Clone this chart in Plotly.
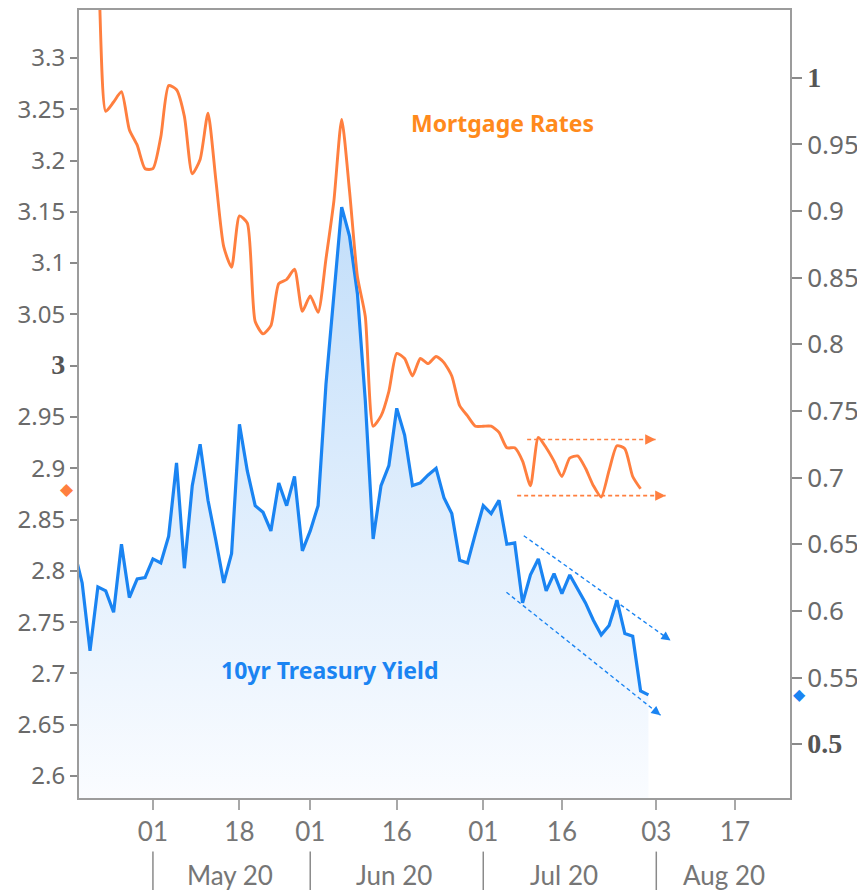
import plotly.graph_objects as go

# ---------------- data ----------------
trade_dates = [
    "2020-04-17", "2020-04-20", "2020-04-21", "2020-04-22", "2020-04-23", "2020-04-24",
    "2020-04-27", "2020-04-28", "2020-04-29", "2020-04-30",
    "2020-05-01", "2020-05-04", "2020-05-05", "2020-05-06", "2020-05-07", "2020-05-08",
    "2020-05-11", "2020-05-12", "2020-05-13", "2020-05-14", "2020-05-15",
    "2020-05-18", "2020-05-19", "2020-05-20", "2020-05-21", "2020-05-22",
    "2020-05-26", "2020-05-27", "2020-05-28", "2020-05-29",
    "2020-06-01", "2020-06-02", "2020-06-03", "2020-06-04", "2020-06-05",
    "2020-06-08", "2020-06-09", "2020-06-10", "2020-06-11", "2020-06-12",
    "2020-06-15", "2020-06-16", "2020-06-17", "2020-06-18", "2020-06-19",
    "2020-06-22", "2020-06-23", "2020-06-24", "2020-06-25", "2020-06-26",
    "2020-06-29", "2020-06-30",
    "2020-07-01", "2020-07-02", "2020-07-06", "2020-07-07", "2020-07-08", "2020-07-09",
    "2020-07-10", "2020-07-13", "2020-07-14", "2020-07-15", "2020-07-16", "2020-07-17",
    "2020-07-20", "2020-07-21", "2020-07-22", "2020-07-23", "2020-07-24",
    "2020-07-27", "2020-07-28", "2020-07-29", "2020-07-30", "2020-07-31",
]

treasury_yield = [
    0.645, 0.621, 0.570, 0.618, 0.615, 0.599, 0.650, 0.610, 0.624, 0.625,
    0.639, 0.636, 0.656, 0.711, 0.632, 0.694, 0.725, 0.683, 0.653, 0.621, 0.643,
    0.740, 0.705, 0.679, 0.674, 0.660, 0.696, 0.679, 0.701, 0.645,
    0.660, 0.679, 0.770, 0.838, 0.903, 0.881, 0.838, 0.758, 0.654, 0.694,
    0.709, 0.752, 0.732, 0.694, 0.696, 0.702, 0.707, 0.685, 0.673, 0.638,
    0.636, 0.658,
    0.679, 0.673, 0.683, 0.650, 0.651, 0.606, 0.627, 0.639, 0.615, 0.628,
    0.613, 0.627, 0.617, 0.606, 0.593, 0.582, 0.589, 0.608, 0.583, 0.581,
    0.540, 0.537,
]

mortgage_dates = trade_dates[1:-1]
mortgage_rate = [
    3.460, 3.440, 3.393, 3.248, 3.257, 3.267, 3.230, 3.215, 3.192,
    3.192, 3.223, 3.273, 3.269, 3.243, 3.187, 3.201, 3.246, 3.181, 3.116, 3.096,
    3.146, 3.139, 3.043, 3.031, 3.039, 3.080, 3.084, 3.094, 3.053,
    3.068, 3.052, 3.104, 3.160, 3.240, 3.170, 3.087, 3.048, 2.941, 2.951,
    2.975, 3.012, 3.007, 2.990, 3.007, 3.002, 3.009, 3.003, 2.990, 2.961,
    2.951, 2.941,
    2.941, 2.941, 2.935, 2.920, 2.920, 2.907, 2.883, 2.930, 2.920, 2.907,
    2.892, 2.910, 2.912, 2.900, 2.883, 2.872, 2.898, 2.922, 2.919, 2.892, 2.880,
]

left_tickvals = [2.6, 2.65, 2.7, 2.75, 2.8, 2.85, 2.9, 2.95, 3.0, 3.05, 3.1, 3.15, 3.2, 3.25, 3.3]
left_ticklabels = ["2.6", "2.65", "2.7", "2.75", "2.8", "2.85", "2.9", "2.95", "3",
                   "3.05", "3.1", "3.15", "3.2", "3.25", "3.3"]
right_tickvals = [0.5, 0.55, 0.6, 0.65, 0.7, 0.75, 0.8, 0.85, 0.9, 0.95, 1.0]
right_ticklabels = ["0.5", "0.55", "0.6", "0.65", "0.7", "0.75", "0.8", "0.85", "0.9", "0.95", "1"]
bold_labels = {"3", "0.5", "1"}

x_tickvals = ["2020-05-01", "2020-05-18", "2020-06-01", "2020-06-16",
              "2020-07-01", "2020-07-16", "2020-08-03", "2020-08-17"]
x_ticklabels = ["01", "18", "01", "16", "01", "16", "03", "17"]
month_names = ["May 20", "Jun 20", "Jul 20", "Aug 20"]
month_starts = ["2020-05-01", "2020-06-01", "2020-07-01", "2020-08-03"]
month_label_x = ["2020-05-14 19:00", "2020-06-15 17:00", "2020-07-16 05:00", "2020-08-13 14:00"]

# trend-channel annotations (start, end)
orange_channel = [(("2020-07-09 13:55", 2.928), ("2020-07-31 21:50", 2.928)),
                  (("2020-07-08 07:26", 2.8733), ("2020-08-04 04:19", 2.8733))]
blue_channel = [(("2020-07-09 03:36", 0.6564), ("2020-08-04 19:26", 0.5778)),
                (("2020-07-06 22:48", 0.6140), ("2020-08-03 12:58", 0.5217))]

# ---------------- styling ----------------
ORANGE = "#ff7f3f"
ORANGE_TXT = "#ff8a1c"
BLUE = "#1a84f2"
AXIS = "#9c9c9c"
TICKTXT = "#6a6a6a"
TICKFONT = "Noto Sans"


def fmt(lbl):
    if lbl in bold_labels:
        return ('<span style="font-family:Liberation Serif;font-weight:bold;'
                'font-size:28px;fill:#555555">' + lbl + "</span>")
    return lbl


fig = go.Figure()

fig.add_trace(go.Scatter(
    x=trade_dates, y=treasury_yield, yaxis="y", mode="lines",
    line=dict(color=BLUE, width=3.2),
    fill="tozeroy",
    fillgradient=dict(type="vertical", start=0.4596, stop=0.905,
                      colorscale=[[0, "rgb(250,252,255)"], [1, "rgb(194,222,250)"]]),
    hoverinfo="skip", showlegend=False,
))

fig.add_trace(go.Scatter(
    x=mortgage_dates, y=mortgage_rate, yaxis="y2", mode="lines",
    line=dict(color=ORANGE, width=2.9, shape="spline", smoothing=0.6),
    hoverinfo="skip", showlegend=False,
))

shapes = []
annotations = []

for (x0, y0), (x1, y1) in orange_channel:
    shapes.append(dict(type="line", xref="x", yref="y2", x0=x0, y0=y0, x1=x1, y1=y1,
                       line=dict(color=ORANGE, width=1.6, dash="4px,3px")))
    annotations.append(dict(x=x1, y=y1, xref="x", yref="y2", ax=-9, ay=0,
                            axref="pixel", ayref="pixel", text="", showarrow=True,
                            arrowhead=2, arrowsize=1.3, arrowwidth=1.6, arrowcolor=ORANGE))

for (x0, y0), (x1, y1) in blue_channel:
    shapes.append(dict(type="line", xref="x", yref="y", x0=x0, y0=y0, x1=x1, y1=y1,
                       line=dict(color=BLUE, width=1.4, dash="4px,3px")))
for ax_, ay_, (x1, y1) in [(-7.3, -5.2, blue_channel[0][1]), (-7.0, -5.6, blue_channel[1][1])]:
    annotations.append(dict(x=x1, y=y1, xref="x", yref="y", ax=ax_, ay=ay_,
                            axref="pixel", ayref="pixel", text="", showarrow=True,
                            arrowhead=2, arrowsize=1.3, arrowwidth=1.4, arrowcolor=BLUE))

# month separators and labels below the axis
for d in month_starts:
    shapes.append(dict(type="line", xref="x", yref="paper", x0=d, x1=d, y0=-0.068, y1=-0.125,
                       line=dict(color="#8a8a8a", width=1.5)))
for name, xpos in zip(month_names, month_label_x):
    annotations.append(dict(x=xpos, y=-0.098, xref="x", yref="paper", text=name,
                            showarrow=False, xanchor="center", yanchor="middle",
                            font=dict(family="Lato", size=26, color="#767676")))

# series labels
annotations.append(dict(x="2020-07-06 10:30", y=3.2368, xref="x", yref="y2",
                        text="<b>Mortgage Rates</b>", showarrow=False,
                        font=dict(family="Noto Sans", size=23, color=ORANGE_TXT)))
annotations.append(dict(x="2020-06-03 10:20", y=0.5554, xref="x", yref="y",
                        text="<b>10yr Treasury Yield</b>", showarrow=False,
                        font=dict(family="Noto Sans", size=23, color=BLUE)))

# latest-value diamonds on each axis
annotations.append(dict(x=0, y=mortgage_rate[-1], xref="paper", yref="y2", xshift=-12,
                        xanchor="center", yanchor="middle",
                        text="◆", showarrow=False,
                        font=dict(family="DejaVu Sans", size=17, color=ORANGE)))
annotations.append(dict(x=1, y=treasury_yield[-1], xref="paper", yref="y", xshift=9,
                        xanchor="center", yanchor="middle",
                        text="◆", showarrow=False,
                        font=dict(family="DejaVu Sans", size=16, color=BLUE)))

fig.update_layout(
    width=865, height=890,
    margin=dict(l=71, r=83, t=0, b=100),
    paper_bgcolor="white", plot_bgcolor="white",
    showlegend=False,
    xaxis=dict(
        type="date",
        range=["2020-04-17 14:24", "2020-08-26"],
        rangebreaks=[dict(bounds=["sat", "mon"]), dict(values=["2020-05-25", "2020-07-03"])],
        tickvals=x_tickvals, ticktext=x_ticklabels,
        ticks="outside", ticklen=10, tickwidth=2, tickcolor="#a8a8a8",
        tickfont=dict(family="Lato", size=26, color="#767676"),
        showline=True, linecolor=AXIS, linewidth=2, mirror=True,
        showgrid=False, zeroline=False,
    ),
    yaxis=dict(
        side="right",
        range=[0.4596, 1.0509],
        tickvals=right_tickvals, ticktext=[fmt(t) for t in right_ticklabels],
        ticks="outside", ticklen=10, tickwidth=2, tickcolor="#8a8a8a",
        tickfont=dict(family=TICKFONT, size=26, color=TICKTXT),
        ticklabelstandoff=0,
        showline=True, linecolor=AXIS, linewidth=2,
        showgrid=False, zeroline=False,
    ),
    yaxis2=dict(
        side="left", overlaying="y", anchor="x",
        range=[2.5786, 3.3467],
        tickvals=left_tickvals, ticktext=[fmt(t) for t in left_ticklabels],
        ticks="outside", ticklen=7, tickwidth=2, tickcolor="#8a8a8a",
        tickfont=dict(family=TICKFONT, size=24, color=TICKTXT),
        ticklabelstandoff=0,
        showline=True, linecolor=AXIS, linewidth=2,
        showgrid=False, zeroline=False,
    ),
    shapes=shapes,
    annotations=annotations,
)

fig.write_html("out.html")
